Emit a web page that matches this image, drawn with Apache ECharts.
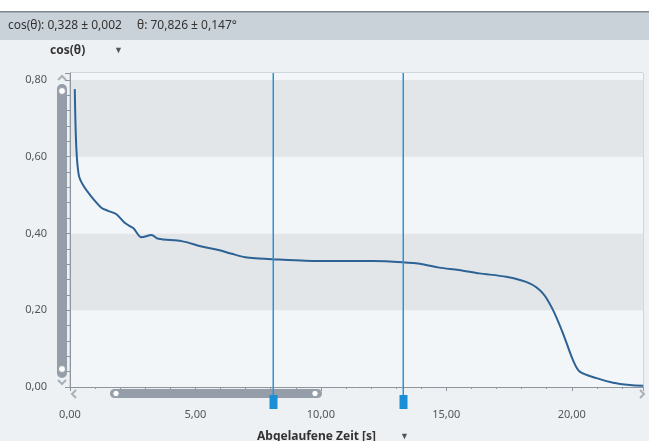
<!DOCTYPE html>
<html><head><meta charset="utf-8">
<script src="https://cdn.jsdelivr.net/npm/echarts@6/dist/echarts.min.js"></script>
<style>html,body{margin:0;padding:0;background:#eef1f4}#c{width:649px;height:441px}</style>
</head><body><div id="c"></div>
<script>
// elapsed time [s]
var times = [0.19,0.25,0.35,0.52,0.85,1.25,1.52,1.85,2.19,2.52,2.85,3.25,3.52,4.45,5.25,5.92,6.45,6.99,7.52,8.05,9.39,10.72,12.05,13.25,14.05,14.72,15.5,16.32,17.39,18.32,18.85,19.25,19.65,20.05,20.32,20.99,21.65,22.32,22.85];
// cos(theta)
var cosTheta = [0.776,0.626,0.552,0.526,0.496,0.467,0.459,0.450,0.427,0.414,0.390,0.396,0.386,0.380,0.366,0.357,0.347,0.338,0.335,0.333,0.329,0.328,0.328,0.325,0.320,0.311,0.305,0.296,0.287,0.270,0.244,0.201,0.140,0.070,0.040,0.023,0.011,0.005,0.003];
// cursor positions [s]
var cursors = [8.08, 13.28];
var headerText1 = 'cos(θ): 0,328 ± 0,002';
var headerText2 = 'θ: 70,826 ± 0,147°';
var yTitle = 'cos(θ)';
var xTitle = 'Abgelaufene Zeit [s]';

var FONT = 'Noto Sans';
function fmt(v){ return v.toFixed(2).replace('.', ','); }

var chart = echarts.init(document.getElementById('c'));
var pts = times.map(function(t,i){ return [t, cosTheta[i]]; });

chart.setOption({
  animation: false,
  backgroundColor: '#eef1f4',
  textStyle: { fontFamily: FONT },
  grid: { left: 70, right: 6, top: 73, bottom: 54, show: true, borderColor: '#b3bac1', borderWidth: 1, backgroundColor: 'transparent' },
  xAxis: {
    type: 'value', min: 0, max: 22.84, interval: 5, offset: 14,
    axisLine: { show: true, lineStyle: { color: '#8e959c' } },
    axisTick: { show: true, length: 4, lineStyle: { color: '#8e959c' } },
    minorTick: { show: true, splitNumber: 5, length: 2, lineStyle: { color: '#8e959c' } },
    axisLabel: { color: '#555', fontSize: 11, margin: 8, showMaxLabel: false, formatter: function(v){ return fmt(v); } },
    splitLine: { show: false }
  },
  yAxis: {
    type: 'value', min: 0, max: 0.818, interval: 0.2, offset: 17,
    axisLine: { show: true, lineStyle: { color: '#8e959c' } },
    axisTick: { show: true, length: 5, lineStyle: { color: '#8e959c' } },
    minorTick: { show: true, splitNumber: 5, length: 3, lineStyle: { color: '#8e959c' } },
    axisLabel: { color: '#555', fontSize: 11, margin: 6, showMaxLabel: false, formatter: function(v){ return fmt(v); } },
    splitLine: { show: false },
    splitArea: { show: true, areaStyle: { color: ['#f3f6f8', '#e2e6e9'] } }
  },
  series: [{
    type: 'line', data: pts, showSymbol: false, smooth: 0.3, z: 3,
    lineStyle: { color: '#2d6294', width: 2 }
  }]
});

var g = [];
// header bar
g.push({ type: 'rect', shape: { x: 0, y: 12, width: 649, height: 28 }, style: { fill: '#c9d1d9' } });
g.push({ type: 'rect', shape: { x: 0, y: 11, width: 649, height: 1.5 }, style: { fill: '#7f8891' } });
g.push({ type: 'rect', shape: { x: 0, y: 0, width: 649, height: 11 }, style: { fill: '#ffffff' } });
g.push({ type: 'text', x: 8, y: 26, style: { text: headerText1, font: '12px ' + FONT, fill: '#333', verticalAlign: 'middle' } });
g.push({ type: 'text', x: 137, y: 26, style: { text: headerText2, font: '12px ' + FONT, fill: '#333', verticalAlign: 'middle' } });
g.push({ type: 'text', x: 50, y: 51, style: { text: yTitle, font: 'bold 12px ' + FONT, fill: '#333', verticalAlign: 'middle' } });
g.push({ type: 'text', x: 114, y: 50, style: { text: '▼', font: '9px ' + FONT, fill: '#555', verticalAlign: 'middle' } });
// vertical scrollbar
g.push({ type: 'rect', shape: { x: 57, y: 84, width: 10, height: 294, r: 5 }, style: { fill: '#959ea8' } });
g.push({ type: 'circle', shape: { cx: 62, cy: 91, r: 3.5 }, style: { fill: '#fff', stroke: '#959ea8' } });
g.push({ type: 'circle', shape: { cx: 62, cy: 369, r: 3.5 }, style: { fill: '#fff', stroke: '#959ea8' } });
g.push({ type: 'polyline', shape: { points: [[58, 80], [62, 76], [66, 80]] }, style: { stroke: '#a8b0b8', lineWidth: 2, fill: null } });
g.push({ type: 'polyline', shape: { points: [[58, 380], [62, 384], [66, 380]] }, style: { stroke: '#a8b0b8', lineWidth: 2, fill: null } });
// horizontal scrollbar
g.push({ type: 'rect', shape: { x: 110, y: 389, width: 212, height: 9, r: 4.5 }, style: { fill: '#959ea8' } });
g.push({ type: 'circle', shape: { cx: 116, cy: 393.5, r: 3.2 }, style: { fill: '#fff', stroke: '#959ea8' } });
g.push({ type: 'circle', shape: { cx: 315, cy: 393.5, r: 3.2 }, style: { fill: '#fff', stroke: '#959ea8' } });
g.push({ type: 'polyline', shape: { points: [[76, 390], [72, 394], [76, 398]] }, style: { stroke: '#a8b0b8', lineWidth: 2, fill: null } });
g.push({ type: 'polyline', shape: { points: [[640, 390], [644, 394], [640, 398]] }, style: { stroke: '#a8b0b8', lineWidth: 2, fill: null } });
// cursors: lines + handles
cursors.forEach(function(c){
  var px = Math.round(chart.convertToPixel({ xAxisIndex: 0 }, c));
  var top = chart.convertToPixel({ yAxisIndex: 0 }, 0.818);
  var bot = chart.convertToPixel({ yAxisIndex: 0 }, 0);
  g.push({ type: 'rect', z: 10, shape: { x: px - 0.5, y: top, width: 1.5, height: bot - top + 8 }, style: { fill: '#2a93d8' } });
  g.push({ type: 'rect', z: 10, shape: { x: px - 3.5, y: 395, width: 8, height: 14 }, style: { fill: '#1a8fd6' } });
});
// x title
g.push({ type: 'text', x: 257, y: 437, style: { text: xTitle, font: 'bold 12px ' + FONT, fill: '#333', verticalAlign: 'middle' } });
g.push({ type: 'text', x: 400, y: 436, style: { text: '▼', font: '9px ' + FONT, fill: '#555', verticalAlign: 'middle' } });
chart.setOption({ graphic: g });
</script></body></html>
